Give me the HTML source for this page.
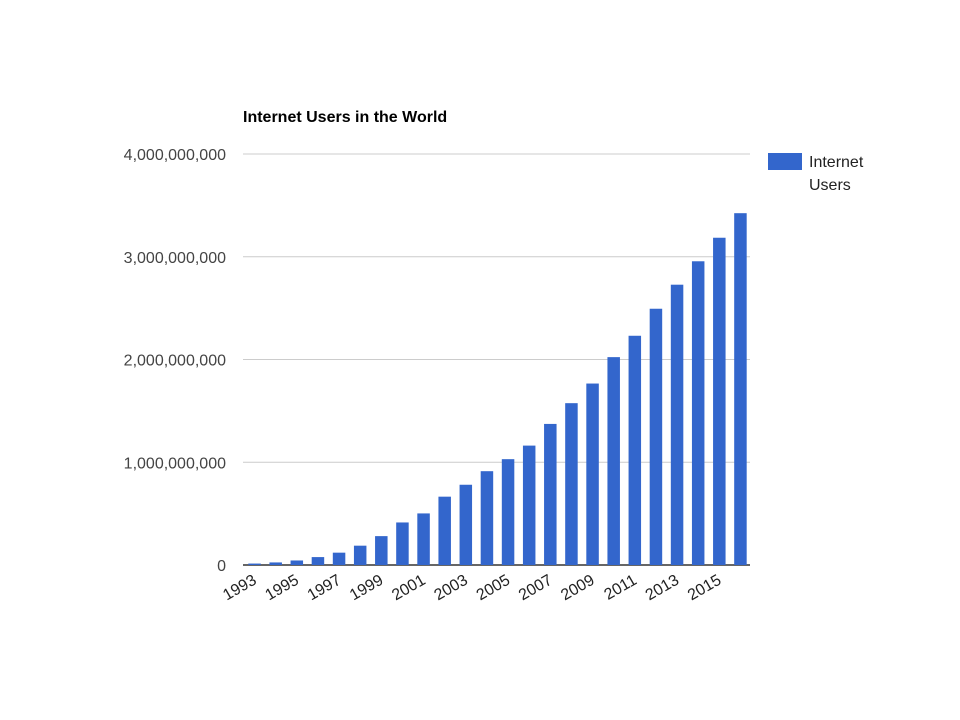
<!DOCTYPE html>
<html><head><meta charset="utf-8"><style>
body{margin:0;background:#fff;}
svg{display:block;font-family:"Liberation Sans",Arial,sans-serif;}
</style></head><body>
<svg id="chart" width="960" height="720">
<text x="243" y="122" font-size="16" font-weight="bold" fill="#000">Internet Users in the World</text>
<g id="grid"></g><g id="bars"></g><g id="xlabels"></g>
<rect x="768" y="153" width="34" height="17" fill="#3366cc"/>
<text x="809" y="167" font-size="16" fill="#222">Internet</text>
<text x="809" y="190" font-size="16" fill="#222">Users</text>
</svg>
<script>
const years=[1993,1994,1995,1996,1997,1998,1999,2000,2001,2002,2003,2004,2005,2006,2007,2008,2009,2010,2011,2012,2013,2014,2015,2016];
const users=[14e6,25e6,44e6,77e6,120e6,188e6,281e6,414e6,502e6,665e6,781e6,913e6,1030e6,1162e6,1373e6,1575e6,1766e6,2023e6,2231e6,2494e6,2728e6,2956e6,3185e6,3424e6];
const yTicks=[0,1e9,2e9,3e9,4e9];
const yTickLabels=["0","1,000,000,000","2,000,000,000","3,000,000,000","4,000,000,000"];
const X0=243,X1=750,Y0=565,Y1=154,YMAX=4e9;
const NS="http://www.w3.org/2000/svg";
const slot=(X1-X0)/years.length;
const xC=i=>X0+slot*(i+0.5);
const yS=v=>Y0-(v/YMAX)*(Y0-Y1);
function mk(t,a,p){const e=document.createElementNS(NS,t);for(const k in a)e.setAttribute(k,a[k]);p.appendChild(e);return e;}
const grid=document.getElementById('grid');
yTicks.forEach((v,i)=>{
 const l=mk('line',{x1:X0,x2:X1,y1:yS(v),y2:yS(v),stroke:i==0?'#333':'#ccc','stroke-width':i==0?1.5:1},grid);
 
 
 const t=mk('text',{x:226,y:yS(v)+6,'text-anchor':'end','font-size':16,fill:'#444'},grid);
 t.textContent=yTickLabels[i];
 
 
});
const bars=document.getElementById('bars');
const bw=12.5;
users.forEach((v,i)=>{
 const r=mk('rect',{x:xC(i)-bw/2+1,y:yS(v),width:bw,height:Y0-yS(v),fill:'#3366cc'},bars);
 
 
});
const xl=document.getElementById('xlabels');
years.forEach((y,i)=>{
 if(i%2)return;
 const cx=xC(i)+4,cy=583;
 const t=mk('text',{x:cx,y:cy,'text-anchor':'end','font-size':16,fill:'#222',transform:`rotate(-30 ${cx} ${cy})`},xl);
 t.textContent=y;
 
 
});
</script>
</body></html>
